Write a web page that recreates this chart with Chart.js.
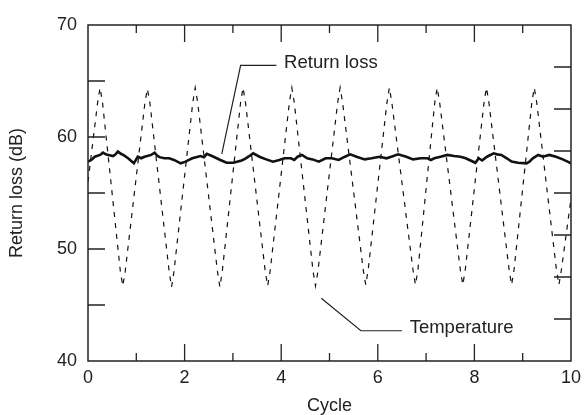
<!DOCTYPE html>
<html>
<head>
<meta charset="utf-8">
<script src="https://cdn.jsdelivr.net/npm/chart.js@4"></script>
<style>
  body { margin: 0; background: #fff; }
  canvas { display: block; }
</style>
</head>
<body>
<canvas id="chart" width="587" height="415"></canvas>
<script>
// return loss trace (dB)
const lossCycle = [0, 0.07, 0.14, 0.25, 0.31, 0.37, 0.42, 0.52, 0.57, 0.62, 0.68, 0.73, 0.83, 0.95, 1.03, 1.10, 1.17, 1.31, 1.38, 1.43, 1.48, 1.58, 1.68, 1.78, 1.92, 2.02,
    2.09, 2.16, 2.33, 2.40, 2.46, 2.60, 2.74, 2.87, 3.01, 3.18, 3.25, 3.32, 3.42, 3.55, 3.69, 3.83, 3.96, 4.07, 4.20, 4.27, 4.34, 4.43, 4.54, 4.65,
    4.78, 4.92, 5.05, 5.19, 5.32, 5.43, 5.56, 5.73, 5.87, 6.04, 6.18, 6.28, 6.42, 6.59, 6.73, 6.89, 7.03, 7.10, 7.17, 7.30, 7.44,
    7.58, 7.71, 7.82, 7.92, 8.02, 8.09, 8.16, 8.26, 8.40, 8.47, 8.56, 8.67, 8.77, 8.90, 9.08, 9.14, 9.21, 9.32, 9.42, 9.55, 9.69,
    9.83, 9.93, 10];
const lossValue = [57.8, 57.95, 58.24, 58.4, 58.6, 58.45, 58.4, 58.3, 58.45, 58.7, 58.5, 58.4, 58.1, 57.65, 58.24, 58.1, 58.24, 58.4, 58.6, 58.35, 58.2, 58.1, 58.1, 57.95, 57.65, 57.8,
    57.95, 58.1, 58.3, 58.2, 58.5, 58.24, 57.95, 57.7, 57.7, 57.9, 58.05, 58.24, 58.54, 58.24, 58.0, 57.8, 57.95, 58.1, 58.1, 57.95, 58.24, 58.4, 58.1, 58.0,
    57.8, 58.1, 58.1, 57.95, 58.24, 58.45, 58.24, 58.0, 58.1, 58.24, 58.1, 58.24, 58.45, 58.24, 58.0, 58.1, 58.1, 57.95, 58.1, 58.24, 58.4,
    58.3, 58.24, 58.1, 57.9, 57.7, 58.1, 57.9, 58.24, 58.54, 58.45, 58.4, 58.1, 57.8, 57.7, 57.65, 57.8, 58.1, 58.4, 58.24, 58.4, 58.24,
    58.0, 57.8, 57.65];

// temperature trace, drawn against the left scale as in the figure
const tempCycle = [0, 0.20, 0.25, 0.30, 0.67, 0.72, 0.77, 1.18, 1.23, 1.28, 1.68, 1.73, 1.78, 2.17, 2.22, 2.27, 2.68, 2.73, 2.78,
    3.16, 3.21, 3.26, 3.67, 3.72, 3.77, 4.17, 4.22, 4.27, 4.66, 4.71, 4.76, 5.17, 5.22, 5.27, 5.70, 5.75, 5.80,
    6.19, 6.24, 6.29, 6.73, 6.78, 6.83, 7.18, 7.23, 7.28, 7.71, 7.76, 7.81, 8.20, 8.25, 8.30, 8.72, 8.77, 8.82,
    9.19, 9.24, 9.29, 9.70, 9.75, 9.80, 10];
const tempValue = [56.0, 63.1, 64.4, 63.1, 48.0, 46.7, 48.0, 63.1, 64.3, 63.1, 48.0, 46.6, 48.0, 63.1, 64.4, 63.1, 48.0, 46.6, 48.0,
    63.1, 64.4, 63.1, 48.0, 46.7, 48.0, 63.1, 64.4, 63.1, 48.0, 46.7, 48.0, 63.1, 64.4, 63.1, 48.1, 46.8, 48.1,
    63.1, 64.4, 63.1, 48.1, 46.8, 48.1, 63.1, 64.4, 63.1, 48.1, 46.8, 48.1, 63.1, 64.4, 63.1, 48.1, 46.8, 48.1,
    63.1, 64.4, 63.1, 48.1, 46.8, 48.1, 54.5];

const xTicks = [0, 2, 4, 6, 8, 10];
const yTicks = [40, 50, 60, 70];

const FONT = "'Liberation Sans', Arial, sans-serif";
const INK = "#222";

// frame, inward tick marks and the two callouts
const framePlugin = {
    id: "frame",
    afterDraw(chart) {
        const { ctx, chartArea: a, scales } = chart;
        const x = scales.x, y = scales.y;
        ctx.save();
        ctx.strokeStyle = INK;
        ctx.lineWidth = 1.5;
        ctx.strokeRect(a.left, a.top, a.right - a.left, a.bottom - a.top);

        ctx.lineWidth = 1.3;
        ctx.beginPath();
        for (let c = 1; c < 10; c++) {
            const px = x.getPixelForValue(c);
            const len = c % 2 === 0 ? 17 : 8;
            ctx.moveTo(px, a.bottom); ctx.lineTo(px, a.bottom - len);
            ctx.moveTo(px, a.top); ctx.lineTo(px, a.top + len);
        }
        for (let v = 45; v < 70; v += 5) {
            const py = y.getPixelForValue(v);
            ctx.moveTo(a.left, py); ctx.lineTo(a.left + 17, py);
        }
        // right side belongs to the temperature axis: 8 divisions, no labels
        for (let k = 1; k < 8; k++) {
            const py = scales.yTemp.getPixelForValue(k);
            ctx.moveTo(a.right, py); ctx.lineTo(a.right - 17, py);
        }
        ctx.stroke();

        // callout leaders
        ctx.lineWidth = 1.2;
        ctx.beginPath();
        ctx.moveTo(x.getPixelForValue(2.77), y.getPixelForValue(58.5));
        ctx.lineTo(x.getPixelForValue(3.16), y.getPixelForValue(66.4));
        ctx.lineTo(x.getPixelForValue(3.90), y.getPixelForValue(66.4));
        ctx.moveTo(x.getPixelForValue(4.83), y.getPixelForValue(45.6));
        ctx.lineTo(x.getPixelForValue(5.65), y.getPixelForValue(42.7));
        ctx.lineTo(x.getPixelForValue(6.50), y.getPixelForValue(42.7));
        ctx.stroke();

        ctx.fillStyle = INK;
        ctx.font = "18.5px " + FONT;
        ctx.textBaseline = "middle";
        ctx.textAlign = "left";
        ctx.fillText("Return loss", x.getPixelForValue(4.06), y.getPixelForValue(66.65));
        ctx.fillText("Temperature", x.getPixelForValue(6.66), y.getPixelForValue(42.95));
        ctx.restore();
    }
};

new Chart(document.getElementById("chart"), {
    type: "line",
    data: {
        datasets: [{
            label: "Temperature",
            data: tempCycle.map((c, i) => ({ x: c, y: tempValue[i] })),
            borderColor: "#111",
            borderWidth: 1.2,
            borderDash: [5, 6],
            pointRadius: 0,
            tension: 0
        }, {
            label: "Return loss",
            data: lossCycle.map((c, i) => ({ x: c, y: lossValue[i] })),
            borderColor: "#111",
            borderWidth: 2.6,
            pointRadius: 0,
            tension: 0
        }]
    },
    options: {
        responsive: false,
        animation: false,
        events: [],
        layout: { padding: { top: 25, right: 12, left: 0, bottom: 0 } },
        plugins: { legend: { display: false }, tooltip: { enabled: false } },
        scales: {
            x: {
                type: "linear",
                min: 0,
                max: 10,
                afterBuildTicks: s => { s.ticks = xTicks.map(v => ({ value: v })); },
                ticks: { font: { size: 18, family: FONT }, color: INK, padding: 6, maxRotation: 0 },
                grid: { display: false, drawTicks: false },
                border: { display: false },
                title: { display: true, text: "Cycle", color: INK, font: { size: 18, family: FONT, lineHeight: 1 }, padding: { top: 0, bottom: 0 } },
                afterFit: s => { s.height = 54; }
            },
            y: {
                type: "linear",
                min: 40,
                max: 70,
                afterBuildTicks: s => { s.ticks = yTicks.map(v => ({ value: v })); },
                ticks: { font: { size: 18, family: FONT }, color: INK, padding: 11 },
                grid: { display: false, drawTicks: false },
                border: { display: false },
                title: { display: true, text: "Return loss (dB)", color: INK, font: { size: 18, family: FONT, lineHeight: 1 }, padding: { top: 8, bottom: 0 } },
                afterFit: s => { s.width = 88; }
            },
            yTemp: {
                type: "linear",
                position: "right",
                min: 0,
                max: 8,
                display: false
            }
        }
    },
    plugins: [framePlugin]
});
</script>
</body>
</html>
